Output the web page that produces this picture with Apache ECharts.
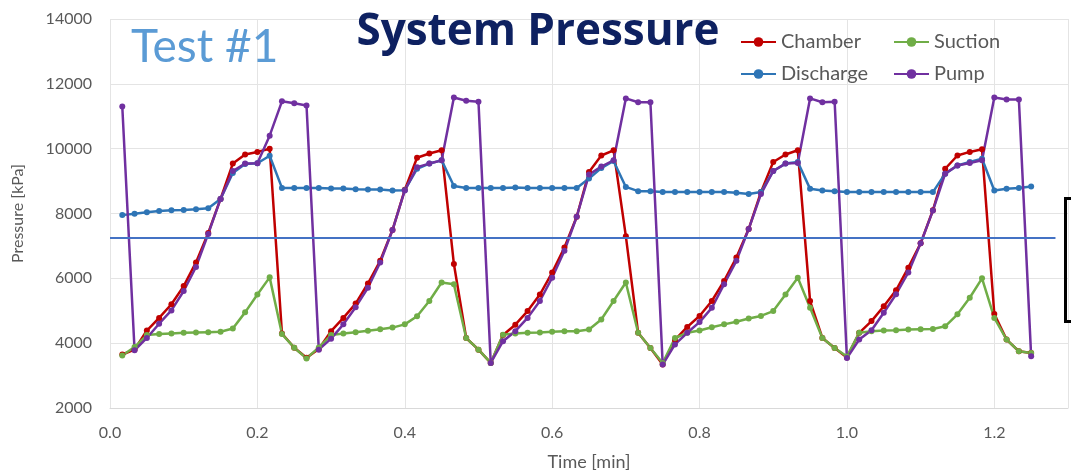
<!DOCTYPE html>
<html>
<head>
<meta charset="utf-8">
<script src="https://cdn.jsdelivr.net/npm/echarts@6/dist/echarts.min.js"></script>
<style>
html,body{margin:0;padding:0;background:#fff;}
#chart{width:1071px;height:472px;}
</style>
</head>
<body>
<div id="chart"></div>
<script>
// Time in seconds (sampled every second), shown in minutes
const timeSec = [1,2,3,4,5,6,7,8,9,10,11,12,13,14,15,16,17,18,19,20,21,22,23,24,25,26,27,28,29,30,31,32,33,34,35,36,37,38,39,40,41,42,43,44,45,46,47,48,49,50,51,52,53,54,55,56,57,58,59,60,61,62,63,64,65,66,67,68,69,70,71,72,73,74,75];

const chamber = [3650,3800,4390,4780,5200,5760,6490,7400,8450,9540,9820,9900,10000,4300,3860,3550,3820,4370,4780,5220,5840,6540,7490,8730,9720,9850,9950,6440,4160,3800,3390,4250,4570,4990,5500,6180,6950,7900,9280,9790,9950,7300,4320,3850,3340,4100,4500,4840,5300,5920,6640,7520,8660,9590,9820,9950,5300,4160,3850,3560,4320,4680,5140,5630,6330,7080,8100,9380,9790,9900,9980,4900,4110,3750,3700];

const suction = [3620,3880,4250,4280,4300,4320,4330,4340,4350,4450,4950,5500,6030,4280,3860,3530,3870,4250,4300,4340,4380,4430,4480,4580,4830,5300,5870,5820,4160,3800,3390,4260,4300,4320,4330,4350,4370,4370,4420,4730,5300,5870,4320,3850,3390,4160,4320,4390,4490,4580,4660,4760,4840,4990,5500,6020,5090,4160,3850,3590,4320,4370,4390,4400,4420,4430,4440,4520,4890,5400,6000,4780,4110,3750,3700];

const discharge = [7950,7990,8040,8080,8100,8110,8130,8160,8450,9250,9530,9550,9780,8790,8790,8790,8790,8770,8770,8750,8740,8740,8710,8720,9380,9540,9640,8850,8790,8790,8790,8790,8800,8790,8790,8790,8790,8790,9080,9400,9620,8820,8690,8690,8660,8660,8660,8660,8660,8660,8640,8600,8660,9310,9540,9590,8760,8710,8690,8660,8660,8660,8660,8660,8660,8660,8660,9230,9480,9590,9690,8710,8760,8790,8830];

const pump = [11300,3780,4160,4600,5010,5610,6350,7370,8450,9310,9540,9550,10400,11460,11400,11330,3800,4140,4580,5110,5710,6490,7490,8710,9430,9540,9640,11580,11480,11450,3390,4060,4370,4780,5300,6020,6850,7900,9200,9450,9640,11550,11430,11430,3340,3960,4320,4650,5090,5820,6540,7520,8600,9310,9540,9560,11550,11430,11450,3540,4110,4400,4940,5510,6180,7080,8090,9230,9480,9560,9640,11580,11520,11520,3600];

const seriesNames = ['Chamber','Suction','Discharge','Pump'];
const seriesColors = ['#c00000','#70ad47','#2e75b6','#7030a0'];
const refLineValue = 7240;      // horizontal annotation line (kPa)
const refLineEndMin = 1.283;    // where annotation line ends (min)

const toPairs = arr => arr.map((v,i) => [timeSec[i]/60, v]);
const dataSets = [chamber, suction, discharge, pump];

const FONT = 'Lato';
const chart = echarts.init(document.getElementById('chart'), null, {renderer:'canvas'});

const series = dataSets.map((d,i) => ({
  name: seriesNames[i],
  type: 'line',
  data: toPairs(d),
  symbol: 'circle',
  symbolSize: 6,
  showAllSymbol: true,
  lineStyle: {width: 2.5, color: seriesColors[i]},
  itemStyle: {color: seriesColors[i]},
  emphasis: {disabled: true},
  animation: false
}));
series[0].markLine = {
  silent: true,
  symbol: 'none',
  label: {show: false},
  lineStyle: {color: '#4472c4', width: 2, type: 'solid'},
  data: [[{coord: [0, refLineValue]}, {coord: [refLineEndMin, refLineValue]}]]
};

const legendCommon = {
  orient: 'vertical', top: 32, padding: 0, itemWidth: 35, itemHeight: 12, itemGap: 12,
  textStyle: {fontFamily: FONT, fontSize: 20, color: '#595959'}
};

chart.setOption({
  backgroundColor: '#ffffff',
  animation: false,
  textStyle: {fontFamily: FONT},
  title: [
    {text: 'System Pressure', left: 538, top: 10, textAlign: 'center', padding: 0,
     textStyle: {fontFamily: 'Open Sans', fontWeight: 'bold', fontSize: 44, color: '#0e2161'}},
    {text: 'Test #1', left: 126, top: 19,
     textStyle: {fontFamily: FONT, fontWeight: 'normal', fontSize: 46, color: '#5b9bd5'}}
  ],
  legend: [
    Object.assign({left: 740, data: ['Chamber','Discharge']}, legendCommon),
    Object.assign({left: 893, data: ['Suction','Pump']}, legendCommon)
  ],
  grid: {left: 110, right: 3, top: 19, bottom: 64, containLabel: false, outerBoundsMode: 'none'},
  xAxis: {
    type: 'value', min: 0, max: 1.3, interval: 0.2,
    name: 'Time [min]', nameLocation: 'middle', nameGap: 45,
    nameTextStyle: {fontFamily: FONT, fontSize: 18, color: '#595959'},
    axisLine: {show: true, lineStyle: {color: '#d9d9d9', width: 1}},
    axisTick: {show: false},
    axisLabel: {margin: 17, fontSize: 16, color: '#595959', fontFamily: FONT,
      showMaxLabel: false, formatter: v => v.toFixed(1)},
    splitLine: {show: true, lineStyle: {color: '#e4e4e4', width: 1}}
  },
  yAxis: {
    type: 'value', min: 2000, max: 14000, interval: 2000,
    name: 'Pressure [kPa]', nameLocation: 'middle', nameGap: 84, nameRotate: 90,
    nameTextStyle: {fontFamily: FONT, fontSize: 16, color: '#595959'},
    axisLine: {show: false},
    axisTick: {show: false},
    axisLabel: {margin: 18, fontSize: 16, color: '#595959', fontFamily: FONT,
      formatter: v => String(v)},
    splitLine: {show: true, lineStyle: {color: '#e4e4e4', width: 1}}
  },
  graphic: [
    {type: 'rect', left: 1063, top: 196, shape: {x: 0, y: 0, width: 30, height: 123},
     style: {fill: 'none', stroke: '#000000', lineWidth: 3}, z: 100}
  ],
  series: series
});
</script>
</body>
</html>
